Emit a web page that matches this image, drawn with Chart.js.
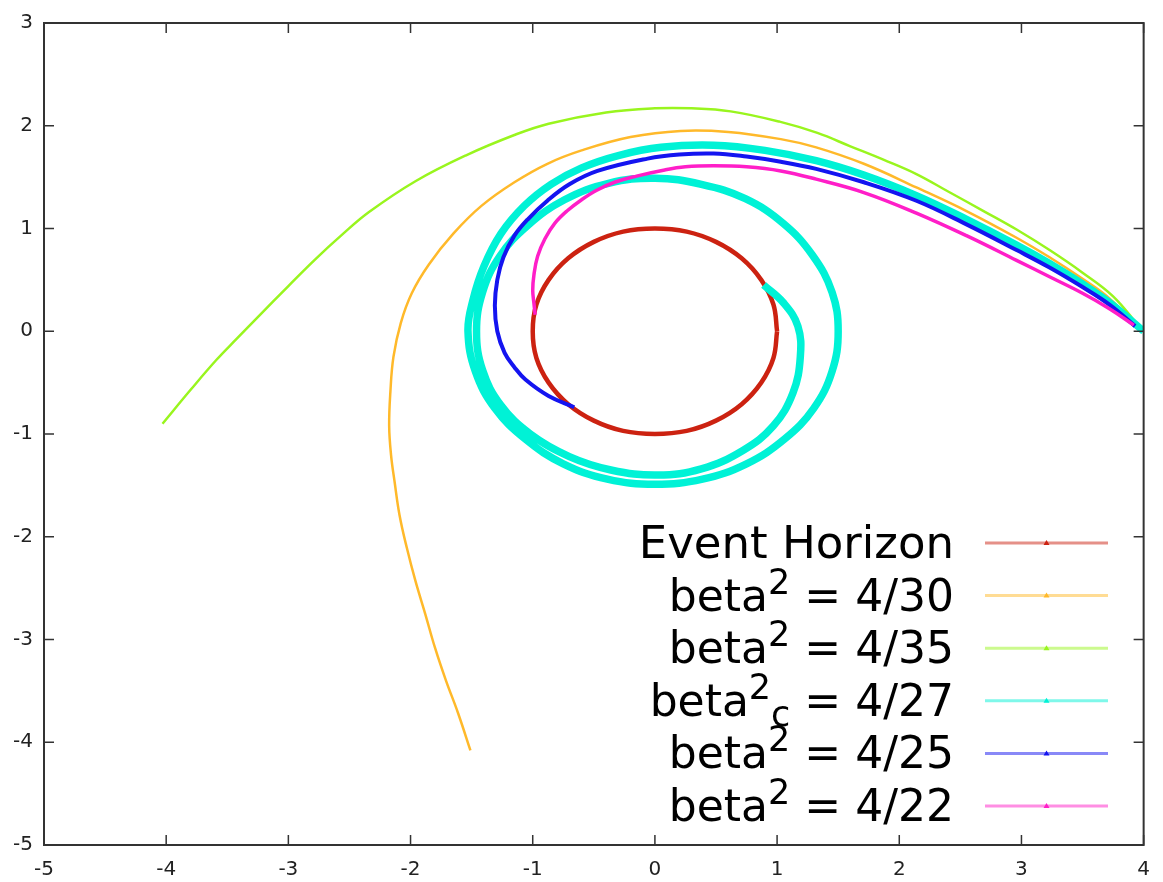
<!DOCTYPE html>
<html>
<head>
<meta charset="utf-8">
<script src="https://cdn.jsdelivr.net/npm/chart.js@4.4.1/dist/chart.umd.min.js"></script>
<style>
  html, body { margin: 0; padding: 0; background: #fff; }
</style>
</head>
<body>
<canvas id="orbits" width="1163" height="882"></canvas>
<script>
// tick labels
const xTicks = [-5, -4, -3, -2, -1, 0, 1, 2, 3, 4];
const yTicks = [-5, -4, -3, -2, -1, 0, 1, 2, 3];

// series names (^ = superscript, _ = subscript)
const seriesNames = ['Event Horizon', 'beta^2 = 4/30', 'beta^2 = 4/35', 'beta^2_c = 4/27', 'beta^2 = 4/25', 'beta^2 = 4/22'];
const seriesColors = ['#cc2211', '#ffb92a', '#99f51e', '#00f2d6', '#1414f0', '#ff1ec8'];

// values, [x, y]
const horizon = [[1,0],[0.97,0.26],[0.87,0.5],[0.71,0.71],[0.5,0.87],[0.26,0.97],[0,1],[-0.26,0.97],[-0.5,0.87],[-0.71,0.71],[-0.87,0.5],[-0.97,0.26],[-1,0],[-0.97,-0.26],[-0.87,-0.5],[-0.71,-0.71],[-0.5,-0.87],[-0.26,-0.97],[0,-1],[0.26,-0.97],[0.5,-0.87],[0.71,-0.71],[0.87,-0.5],[0.97,-0.26],[1,0]];

const beta30 = [[3.95,0.04],[3.72,0.32],[3.50,0.51],[3.23,0.72],[2.96,0.91],[2.55,1.17],[2.14,1.40],[1.71,1.63],[1.32,1.79],[1.03,1.87],[0.60,1.94],[0.21,1.95],[-0.20,1.89],[-0.60,1.76],[-0.88,1.63],[-1.15,1.45],[-1.42,1.22],[-1.65,0.95],[-1.85,0.65],[-1.99,0.37],[-2.08,0.08],[-2.14,-0.25],[-2.165,-0.59],[-2.175,-0.92],[-2.16,-1.20],[-2.13,-1.47],[-2.09,-1.79],[-2.03,-2.11],[-1.96,-2.43],[-1.88,-2.75],[-1.80,-3.08],[-1.71,-3.40],[-1.61,-3.72],[-1.51,-4.08]];

const beta35 = [[3.96,0.05],[3.75,0.34],[3.50,0.57],[3.23,0.79],[2.96,0.99],[2.69,1.17],[2.40,1.36],[2.14,1.53],[1.87,1.67],[1.60,1.80],[1.33,1.93],[1.02,2.04],[0.62,2.14],[0.30,2.17],[0.00,2.17],[-0.40,2.13],[-0.87,2.02],[-1.15,1.91],[-1.55,1.71],[-1.96,1.46],[-2.34,1.16],[-2.56,0.94],[-2.78,0.70],[-3.00,0.44],[-3.24,0.15],[-3.42,-0.07],[-3.59,-0.28],[-3.80,-0.57],[-4.03,-0.90]];

const beta27 = [[4.00,0.00],[3.72,0.28],[3.50,0.46],[3.23,0.66],[2.96,0.84],[2.55,1.09],[2.14,1.32],[1.71,1.52],[1.32,1.66],[0.90,1.76],[0.48,1.81],[0.05,1.79],[-0.30,1.71],[-0.60,1.59],[-0.85,1.43],[-1.07,1.22],[-1.26,0.95],[-1.40,0.63],[-1.49,0.30],[-1.53,0.00],[-1.47,-0.39],[-1.31,-0.75],[-1.06,-1.05],[-0.75,-1.29],[-0.39,-1.44],[0.00,-1.49],[0.39,-1.44],[0.75,-1.29],[1.06,-1.05],[1.30,-0.75],[1.45,-0.39],[1.50,0.00],[1.45,0.38],[1.29,0.74],[1.05,1.05],[0.74,1.29],[0.38,1.43],[0.00,1.49],[-0.38,1.44],[-0.74,1.28],[-1.04,1.03],[-1.27,0.73],[-1.41,0.38],[-1.46,0.00],[-1.41,-0.38],[-1.26,-0.72],[-1.02,-1.00],[-0.70,-1.22],[-0.36,-1.35],[0.02,-1.40],[0.38,-1.34],[0.72,-1.16],[0.97,-0.92],[1.13,-0.60],[1.19,-0.25],[1.17,0.05],[1.05,0.28],[0.89,0.45]];

const beta25 = [[3.93,0.05],[3.72,0.26],[3.50,0.43],[3.23,0.62],[2.96,0.79],[2.55,1.04],[2.14,1.27],[1.71,1.45],[1.32,1.58],[1.03,1.65],[0.75,1.70],[0.48,1.73],[0.20,1.72],[-0.06,1.68],[-0.47,1.56],[-0.70,1.43],[-0.88,1.27],[-1.04,1.09],[-1.15,0.93],[-1.24,0.72],[-1.29,0.50],[-1.31,0.25],[-1.29,0.00],[-1.23,-0.21],[-1.15,-0.35],[-1.06,-0.47],[-0.87,-0.63],[-0.66,-0.74]];

const beta22 = [[3.92,0.06],[3.72,0.22],[3.50,0.37],[3.23,0.53],[2.96,0.69],[2.55,0.93],[2.14,1.15],[1.71,1.35],[1.32,1.48],[1.03,1.56],[0.75,1.60],[0.48,1.61],[0.25,1.60],[0.08,1.57],[-0.15,1.51],[-0.33,1.45],[-0.48,1.37],[-0.60,1.28],[-0.72,1.17],[-0.82,1.05],[-0.90,0.90],[-0.96,0.73],[-0.99,0.55],[-1.00,0.40],[-0.99,0.27],[-0.98,0.16]];

const allSeries = [horizon, beta30, beta35, beta27, beta25, beta22];
const lineWidths = [4.5, 2.5, 2.5, 7.5, 4, 3.5];
const keyFontSizes = [45, 44, 44, 44, 44, 44];

const FONT = '"DejaVu Sans", sans-serif';

function toPoints(arr) {
  return arr.map(p => ({ x: p[0], y: p[1] }));
}

// split "beta^2_c = 4/27" into normal / super / sub pieces
function splitLabel(str) {
  const out = [];
  let buf = '';
  for (let i = 0; i < str.length; i++) {
    const c = str[i];
    if (c === '^' || c === '_') {
      if (buf) { out.push({ t: buf, k: 0 }); buf = ''; }
      out.push({ t: str[i + 1], k: c === '^' ? 1 : -1 });
      i++;
    } else {
      buf += c;
    }
  }
  if (buf) out.push({ t: buf, k: 0 });
  return out;
}

// gnuplot style border with inward ticks on all four sides
const framePlugin = {
  id: 'frame',
  afterDatasetsDraw(chart) {
    const { ctx, chartArea: a, scales } = chart;
    ctx.save();
    ctx.strokeStyle = '#333';
    ctx.lineWidth = 1.5;
    const len = 10;
    ctx.beginPath();
    xTicks.forEach(v => {
      const px = scales.x.getPixelForValue(v);
      ctx.moveTo(px, a.bottom); ctx.lineTo(px, a.bottom - len);
      ctx.moveTo(px, a.top); ctx.lineTo(px, a.top + len);
    });
    yTicks.forEach(v => {
      const py = scales.y.getPixelForValue(v);
      ctx.moveTo(a.left, py); ctx.lineTo(a.left + len, py);
      ctx.moveTo(a.right, py); ctx.lineTo(a.right - len, py);
    });
    ctx.stroke();
    ctx.lineWidth = 2;
    ctx.strokeRect(a.left, a.top, a.right - a.left, a.bottom - a.top);
    ctx.restore();
  }
};

// legend at lower right: text right aligned, line sample on its right
const keyPlugin = {
  id: 'key',
  afterDraw(chart) {
    const ctx = chart.ctx;
    const textRight = 954;
    const lineL = 985, lineR = 1108;
    const row0 = 543, step = 52.6;
    ctx.save();
    seriesNames.forEach((name, i) => {
      const yc = row0 + i * step;
      const base = yc + 15;
      const big = keyFontSizes[i] + 'px ' + FONT;
      const small = '35px ' + FONT;
      const parts = splitLabel(name);
      let total = 0;
      parts.forEach(p => {
        ctx.font = p.k === 0 ? big : small;
        p.w = ctx.measureText(p.t).width;
        total += p.w;
      });
      let x = textRight - total;
      ctx.fillStyle = '#000';
      ctx.textBaseline = 'alphabetic';
      ctx.textAlign = 'left';
      parts.forEach(p => {
        ctx.font = p.k === 0 ? big : small;
        const dy = p.k === 1 ? -17 : (p.k === -1 ? 10 : 0);
        ctx.fillText(p.t, x, base + dy);
        x += p.w;
      });
      // sample
      ctx.globalAlpha = 0.5;
      ctx.strokeStyle = seriesColors[i];
      ctx.lineWidth = 3;
      ctx.beginPath();
      ctx.moveTo(lineL, yc); ctx.lineTo(lineR, yc);
      ctx.stroke();
      ctx.globalAlpha = 1;
      ctx.fillStyle = seriesColors[i];
      const mx = (lineL + lineR) / 2;
      ctx.beginPath();
      ctx.moveTo(mx, yc - 3); ctx.lineTo(mx + 3, yc + 2); ctx.lineTo(mx - 3, yc + 2);
      ctx.closePath();
      ctx.fill();
    });
    ctx.restore();
  }
};

const datasets = allSeries.map((s, i) => ({
  label: seriesNames[i],
  data: toPoints(s),
  showLine: true,
  borderColor: seriesColors[i],
  backgroundColor: seriesColors[i],
  borderWidth: lineWidths[i],
  pointRadius: 0,
  tension: 0.4,
  fill: false,
  order: allSeries.length - i
}));

new Chart(document.getElementById('orbits'), {
  type: 'scatter',
  data: { datasets: datasets },
  options: {
    responsive: false,
    animation: false,
    layout: { padding: { top: 19, right: 15, left: 0, bottom: 0 } },
    plugins: {
      legend: { display: false },
      tooltip: { enabled: false }
    },
    scales: {
      x: {
        type: 'linear',
        min: -5, max: 4,
        afterBuildTicks: s => { s.ticks = xTicks.map(v => ({ value: v })); },
        afterFit: s => { s.height = 37; },
        grid: { display: false, drawTicks: false },
        border: { display: false },
        ticks: { color: '#222', font: { family: FONT, size: 20 }, padding: 13 }
      },
      y: {
        type: 'linear',
        min: -5, max: 3,
        afterBuildTicks: s => { s.ticks = yTicks.map(v => ({ value: v })); },
        afterFit: s => { s.width = 44; },
        grid: { display: false, drawTicks: false },
        border: { display: false },
        ticks: { color: '#222', font: { family: FONT, size: 20 }, padding: 11 }
      }
    }
  },
  plugins: [framePlugin, keyPlugin]
});
</script>
</body>
</html>
